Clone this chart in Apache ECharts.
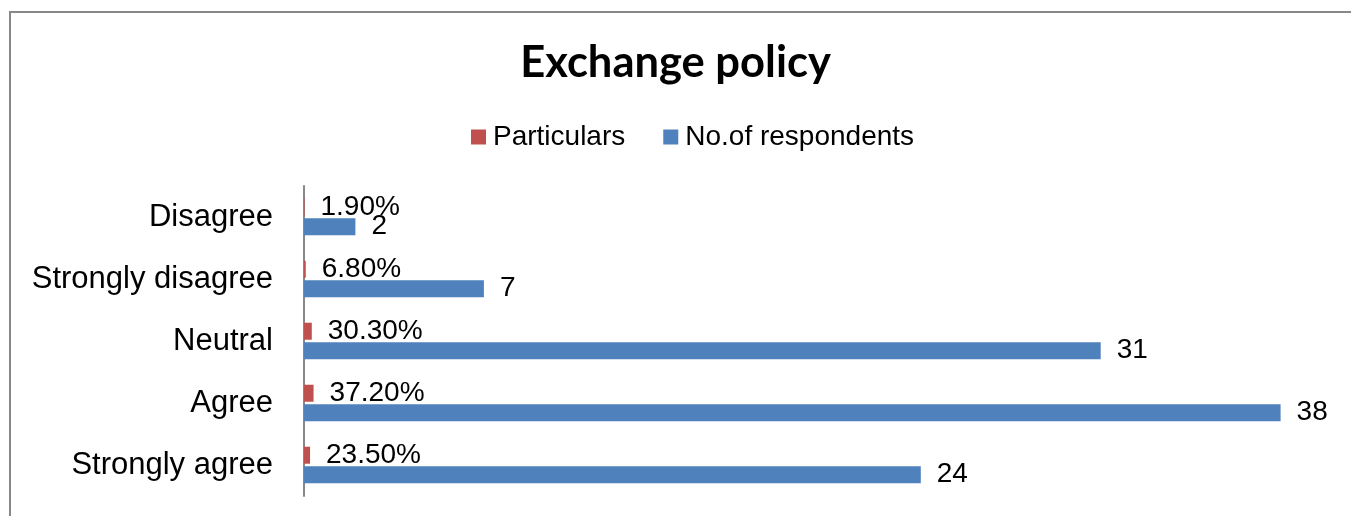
<!DOCTYPE html>
<html>
<head>
<meta charset="utf-8">
<script src="https://cdn.jsdelivr.net/npm/echarts@6/dist/echarts.min.js"></script>
<style>
  html, body { margin: 0; padding: 0; background: #fff; }
  #chart { width: 1351px; height: 516px; }
</style>
</head>
<body>
<div id="chart"></div>
<script>
// Response categories, listed from the bottom of the axis to the top
const categories = ['Strongly agree', 'Agree', 'Neutral', 'Strongly disagree', 'Disagree'];
// Share of respondents per answer (fraction, labelled as a percentage)
const particulars = [0.235, 0.372, 0.303, 0.068, 0.019];
// Number of respondents per answer
const respondents = [24, 38, 31, 7, 2];

const chart = echarts.init(document.getElementById('chart'));

const labelStyle = {
  show: true,
  position: 'right',
  distance: 16,
  color: '#000',
  fontFamily: 'Liberation Sans, Arial, sans-serif',
  fontSize: 28
};

chart.setOption({
  animation: false,
  backgroundColor: '#fff',
  graphic: [{
    type: 'rect',
    shape: { x: 10, y: 12, width: 1400, height: 600 },
    style: { fill: 'none', stroke: '#888888', lineWidth: 2 },
    silent: true
  }],
  title: {
    text: 'Exchange policy',
    left: 'center',
    top: 36,
    textStyle: {
      fontFamily: 'Lato, Open Sans, sans-serif',
      fontWeight: 'bold',
      fontSize: 43.5,
      color: '#000'
    }
  },
  legend: {
    top: 118,
    left: 466,
    itemWidth: 15,
    itemHeight: 15,
    itemGap: 38,
    icon: 'rect',
    data: ['Particulars', 'No.of respondents'],
    textStyle: {
      fontFamily: 'Liberation Sans, Arial, sans-serif',
      fontSize: 28,
      color: '#000',
      padding: [0, 0, 0, 2]
    }
  },
  grid: { left: 304, right: 19, top: 186, bottom: 20, containLabel: false },
  xAxis: {
    type: 'value',
    min: 0,
    max: 40,
    show: false
  },
  yAxis: {
    type: 'category',
    data: categories,
    axisLine: { show: true, lineStyle: { color: '#888888', width: 2 } },
    axisTick: { show: false },
    axisLabel: {
      margin: 31,
      color: '#000',
      fontFamily: 'Liberation Sans, Arial, sans-serif',
      fontSize: 31
    }
  },
  series: [
    {
      name: 'Particulars',
      type: 'bar',
      data: particulars,
      barWidth: 17,
      barGap: '15%',
      itemStyle: { color: '#C0504D' },
      label: Object.assign({}, labelStyle, {
        formatter: p => (p.value * 100).toFixed(2) + '%'
      })
    },
    {
      name: 'No.of respondents',
      type: 'bar',
      data: respondents,
      barWidth: 17,
      barGap: '15%',
      itemStyle: { color: '#4F81BD' },
      label: Object.assign({}, labelStyle)
    }
  ]
});
</script>
</body>
</html>
